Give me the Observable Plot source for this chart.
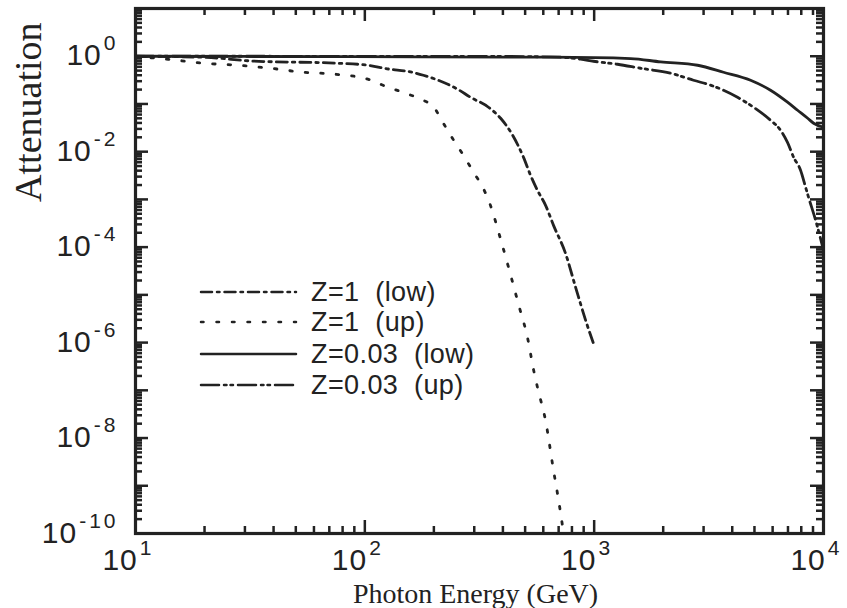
<!DOCTYPE html>
<html><head><meta charset="utf-8">
<script src="https://cdn.jsdelivr.net/npm/d3@7"></script>
<script src="https://cdn.jsdelivr.net/npm/@observablehq/plot@0.6"></script>
<style>
html,body{margin:0;padding:0;background:#fff;}
#wrap{position:relative;width:847px;height:608px;}
#legend{position:absolute;left:0;top:0;pointer-events:none;}
</style></head><body>
<div id="wrap"><div id="chart"></div><svg id="legend" width="847" height="608"></svg></div>
<script>
// ---- data ----
const seriesNames = ["Z=1  (low)", "Z=1  (up)", "Z=0.03  (low)", "Z=0.03  (up)"];

const z1LowE = [10, 20, 32.7, 76, 103, 129, 153, 180, 209, 254, 289, 346, 391, 441, 492, 528, 566, 614, 665, 750, 830, 927, 1000];
const z1LowA = [1.0, 0.95, 0.79, 0.713, 0.647, 0.533, 0.485, 0.40, 0.314, 0.203, 0.138, 0.0853, 0.0501, 0.0221, 0.0076, 0.0032, 0.00155, 0.00075, 0.000286, 7.4e-5, 1.44e-5, 2.53e-6, 8.7e-7];

const z1UpE = [10, 13.9, 19.8, 27.9, 38.8, 53.5, 74.5, 103, 123, 146, 175, 200, 220, 241, 269, 298, 330, 353, 391, 428, 468, 513, 545, 566, 614, 665, 700, 736];
const z1UpA = [0.98, 0.865, 0.713, 0.647, 0.56, 0.462, 0.42, 0.33, 0.235, 0.176, 0.126, 0.0853, 0.0394, 0.0191, 0.0084, 0.0037, 0.00163, 0.00075, 0.000146, 3.1e-5, 6.3e-6, 1.22e-6, 2.6e-7, 1.15e-7, 2.3e-8, 2.1e-9, 4.9e-10, 1.0e-10];

const z003LowE = [10, 86.7, 646, 1442, 1950, 2825, 3664, 4808, 5875, 6966, 7709, 8531, 9057, 10000];
const z003LowA = [1.0, 0.977, 0.953, 0.895, 0.76, 0.647, 0.462, 0.314, 0.194, 0.109, 0.0738, 0.0501, 0.0394, 0.0325];

const z003UpE = [10, 391, 713, 873, 993, 1265, 1592, 2153, 2710, 3319, 4217, 4955, 5875, 6501, 6966, 7413, 7943, 8356, 8610, 9247, 10000];
const z003UpA = [1.0, 0.989, 0.953, 0.865, 0.785, 0.679, 0.56, 0.441, 0.314, 0.235, 0.138, 0.0853, 0.0455, 0.0281, 0.0157, 0.0076, 0.0041, 0.0018, 0.0011, 0.00036, 8.6e-5];

const xMajor = [10, 100, 1000, 10000];
const xMinor = [20,30,40,50,60,70,80,90, 200,300,400,500,600,700,800,900, 2000,3000,4000,5000,6000,7000,8000,9000];
const yMajor = [1e-10,1e-9,1e-8,1e-7,1e-6,1e-5,1e-4,1e-3,1e-2,1e-1,1,10];
const yMinor = yMajor.slice(0, -1).flatMap(p => [2,3,4,5,6,7,8,9].map(m => m * p));
const xLabels = ["10^1", "10^2", "10^3", "10^4"];
const yLabelValues = [1, 1e-2, 1e-4, 1e-6, 1e-8, 1e-10];
const yLabels = ["10^0", "10^-2", "10^-4", "10^-6", "10^-8", "10^-10"];
const xTitle = "Photon Energy (GeV)";
const yTitle = "Attenuation";

const dashes = ["11,5,2.5,5", "2.5,13", null, "18,5,2.5,4,2.5,5"];
const ink = "#222";

const toRows = (E, A) => E.map((e, i) => ({E: e, A: A[i]}));
const series = [toRows(z1LowE, z1LowA), toRows(z1UpE, z1UpA), toRows(z003LowE, z003LowA), toRows(z003UpE, z003UpA)];

// layout
const W = 847, H = 608, ML = 135, MR = 24, MT = 8, MB = 75;
const FW = W - ML - MR, FH = H - MT - MB;
const MAJ = 13, MIN = 7;
const tickStyle = {stroke: ink, strokeWidth: 2.5};
// inward tick marks: a full-span tick with an inset that leaves only `len` pixels at one side
const ticksX = (vals, len) => [
  Plot.tickX(vals, {x: d => d, insetTop: FH - len, ...tickStyle}),
  Plot.tickX(vals, {x: d => d, insetBottom: FH - len, ...tickStyle})
];
const ticksY = (vals, len) => [
  Plot.tickY(vals, {y: d => d, insetRight: FW - len, ...tickStyle}),
  Plot.tickY(vals, {y: d => d, insetLeft: FW - len, ...tickStyle})
];

const chart = Plot.plot({
  width: W, height: H,
  marginLeft: ML, marginRight: MR, marginTop: MT, marginBottom: MB,
  x: {type: "log", domain: [10, 1e4], axis: null},
  y: {type: "log", domain: [1e-10, 10], axis: null},
  style: {fontFamily: "'Liberation Sans', Arial, sans-serif", color: ink, background: "#fff"},
  marks: [
    ...series.map((s, i) => Plot.line(s, {x: "E", y: "A", stroke: ink, strokeWidth: 2.8,
        strokeDasharray: dashes[i], strokeLinecap: "round", curve: "monotone-x"})),
    ...ticksX(xMinor, MIN), ...ticksX(xMajor, MAJ),
    ...ticksY(yMinor, MIN), ...ticksY(yMajor, MAJ),
    Plot.frame({stroke: ink, strokeWidth: 3.2}),
    Plot.text(xMajor, {x: d => d, text: (d, i) => xLabels[i], frameAnchor: "bottom", dy: 36,
        lineAnchor: "bottom", textAnchor: "end", dx: 19, fontSize: 30, fill: ink}),
    Plot.text(yLabelValues, {y: d => d, text: (d, i) => yLabels[i], frameAnchor: "left", dx: -17, dy: 9,
        lineAnchor: "bottom", textAnchor: "end", fontSize: 30, fill: ink}),
    Plot.text([xTitle], {frameAnchor: "bottom", dy: 69, dx: -4, lineAnchor: "bottom",
        fontFamily: "'Liberation Serif', 'Times New Roman', serif", fontSize: 28, fill: ink}),
    Plot.text([yTitle], {frameAnchor: "top-left", dx: -121, dy: 14, rotate: -90, textAnchor: "end",
        fontFamily: "'Liberation Serif', 'Times New Roman', serif", fontSize: 38, fill: ink})
  ]
});
document.getElementById("chart").appendChild(chart);

// turn "10^k" labels into base + superscript
const svgns = "http://www.w3.org/2000/svg";
chart.querySelectorAll("text").forEach(t => {
  const s = t.textContent;
  if (!s.includes("^")) return;
  const [b, e] = s.split("^");
  t.textContent = "";
  const tb = document.createElementNS(svgns, "tspan");
  tb.textContent = b;
  tb.setAttribute("letter-spacing", "1");
  const te = document.createElementNS(svgns, "tspan");
  te.textContent = e;
  te.setAttribute("font-size", "21");
  te.setAttribute("dy", "-15");
  te.setAttribute("dx", "2");
  te.setAttribute("letter-spacing", "3");
  t.appendChild(tb); t.appendChild(te);
});

// legend overlay
const leg = d3.select("#legend");
const rowsY = [292, 322, 354, 385];
seriesNames.forEach((name, i) => {
  leg.append("line").attr("x1", 201).attr("x2", 296).attr("y1", rowsY[i]).attr("y2", rowsY[i])
    .attr("stroke", ink).attr("stroke-width", 2.5).attr("stroke-linecap", "round")
    .attr("stroke-dasharray", dashes[i]);
  leg.append("text").attr("x", 311).attr("y", rowsY[i]).attr("dy", "0.35em")
    .attr("font-family", "'Liberation Sans', Arial, sans-serif").attr("font-size", 27)
    .attr("letter-spacing", "0.4").attr("fill", ink).style("white-space", "pre").text(name);
});
</script>
</body></html>
